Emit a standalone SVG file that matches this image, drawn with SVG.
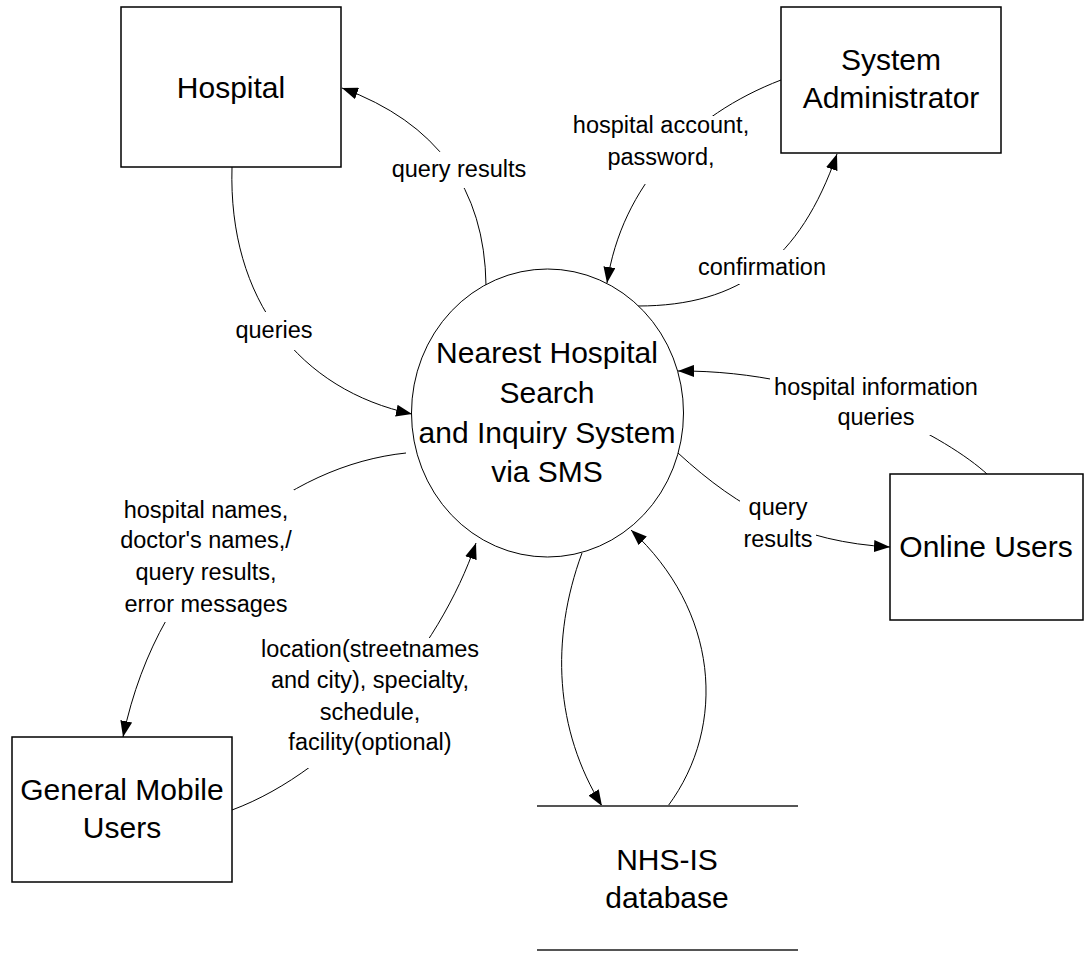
<svg xmlns="http://www.w3.org/2000/svg" width="1084" height="953" viewBox="0 0 1084 953">
<style>
text{font-family:"Liberation Sans",Arial,sans-serif;fill:#000;text-anchor:middle}
.node{font-size:30px}
.lbl{font-size:23.5px}
.box{fill:#fff;stroke:#000;stroke-width:1.5}
.conn{fill:none;stroke:#000;stroke-width:1}
.bg{fill:#fff;stroke:none}
.store{stroke:#555;stroke-width:1.8}
</style>
<defs>
<marker id="arr" viewBox="0 0 16 12" refX="16" refY="6" markerWidth="16" markerHeight="12" markerUnits="userSpaceOnUse" orient="auto">
<path d="M0,0 L16,6 L0,12 z" fill="#000"/>
</marker>
</defs>
<rect width="1084" height="953" fill="#fff"/>
<g id="connectors">
<path class="conn" d="M232,167 C228,300 300,390 412,414" marker-end="url(#arr)"/>
<path class="conn" d="M486,285 Q484,140 342,88" marker-end="url(#arr)"/>
<path class="conn" d="M781,80 C690,115 622,185 607,283" marker-end="url(#arr)"/>
<path class="conn" d="M638,306 C740,306 800,260 837,154" marker-end="url(#arr)"/>
<path class="conn" d="M987,474 C950,440 830,370 678,371" marker-end="url(#arr)"/>
<path class="conn" d="M678,453 C740,510 800,542 890,547" marker-end="url(#arr)"/>
<path class="conn" d="M406,453 C290,465 160,560 123,737" marker-end="url(#arr)"/>
<path class="conn" d="M232,810 C340,770 440,650 476,543" marker-end="url(#arr)"/>
<path class="conn" d="M582,553 C550,640 555,730 602,806" marker-end="url(#arr)"/>
<path class="conn" d="M668,806 C728,725 718,610 631,530" marker-end="url(#arr)"/>
<g id="labels">
<rect class="bg" x="388" y="152" width="142" height="36"/>
<text class="lbl" x="459" y="177">query results</text>
<rect class="bg" x="234" y="312" width="82" height="38"/>
<text class="lbl" x="274" y="338">queries</text>
<rect class="bg" x="572" y="116" width="178" height="68"/>
<text class="lbl" x="661" y="133">hospital account,</text>
<text class="lbl" x="661" y="165">password,</text>
<rect class="bg" x="695" y="250" width="134" height="34"/>
<text class="lbl" x="762" y="275">confirmation</text>
<rect class="bg" x="770" y="373" width="212" height="62"/>
<text class="lbl" x="876" y="395">hospital information</text>
<text class="lbl" x="876" y="425">queries</text>
<rect class="bg" x="740" y="497" width="76" height="56"/>
<text class="lbl" x="778" y="515">query</text>
<text class="lbl" x="778" y="547">results</text>
<rect class="bg" x="118" y="490" width="176" height="132"/>
<text class="lbl" x="206" y="518">hospital names,</text>
<text class="lbl" x="206" y="548">doctor's names,/</text>
<text class="lbl" x="206" y="580">query results,</text>
<text class="lbl" x="206" y="612">error messages</text>
<rect class="bg" x="268" y="638" width="206" height="130"/>
<text class="lbl" x="370" y="657">location(streetnames</text>
<text class="lbl" x="370" y="688">and city), specialty,</text>
<text class="lbl" x="370" y="720">schedule,</text>
<text class="lbl" x="370" y="750">facility(optional)</text>
</g>
</g>
<g id="hospital">
<rect class="box" x="121" y="7" width="220" height="160"/>
<text class="node" x="231" y="98">Hospital</text>
</g>
<g id="sysadmin">
<rect class="box" x="781" y="7" width="220" height="146"/>
<text class="node" x="891" y="70">System</text>
<text class="node" x="891" y="108">Administrator</text>
</g>
<g id="system">
<ellipse cx="547.5" cy="413" rx="136" ry="144" fill="#fff" stroke="#000" stroke-width="1"/>
<text class="node" x="547" y="363">Nearest Hospital</text>
<text class="node" x="547" y="403">Search</text>
<text class="node" x="547" y="443">and Inquiry System</text>
<text class="node" x="547" y="482">via SMS</text>
</g>
<g id="online">
<rect class="box" x="890" y="474" width="193" height="146"/>
<text class="node" x="986" y="557">Online Users</text>
</g>
<g id="mobile">
<rect class="box" x="12" y="737" width="220" height="145"/>
<text class="node" x="122" y="800">General Mobile</text>
<text class="node" x="122" y="838">Users</text>
</g>
<g id="database">
<line class="store" x1="537" y1="806" x2="798" y2="806"/>
<line class="store" x1="537" y1="950" x2="798" y2="950"/>
<text class="node" x="667" y="870">NHS-IS</text>
<text class="node" x="667" y="908">database</text>
</g>
</svg>
